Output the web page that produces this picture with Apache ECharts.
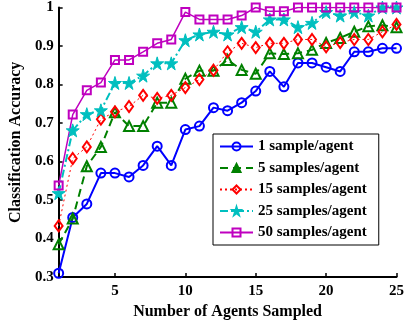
<!DOCTYPE html>
<html>
<head>
<meta charset="utf-8">
<script src="https://cdn.jsdelivr.net/npm/echarts@6/dist/echarts.min.js"></script>
<style>
  html, body { margin: 0; padding: 0; background: #fff; }
  #chart { width: 407px; height: 325px; }
</style>
</head>
<body>
<div id="chart"></div>
<script>
// Number of agents sampled (x) and accuracy per sampling budget
const agents = [1,2,3,4,5,6,7,8,9,10,11,12,13,14,15,16,17,18,19,20,21,22,23,24,25];
const acc1  = [0.31,0.455,0.49,0.57,0.57,0.56,0.59,0.64,0.59,0.683,0.692,0.74,0.732,0.753,0.783,0.834,0.794,0.856,0.856,0.845,0.834,0.885,0.885,0.894,0.894];
const acc5  = [0.385,0.452,0.588,0.638,0.728,0.692,0.692,0.753,0.753,0.815,0.836,0.836,0.864,0.838,0.828,0.881,0.879,0.881,0.89,0.908,0.921,0.937,0.951,0.954,0.949];
const acc15 = [0.433,0.608,0.638,0.71,0.729,0.743,0.772,0.764,0.772,0.792,0.813,0.837,0.885,0.907,0.896,0.907,0.907,0.917,0.917,0.898,0.909,0.917,0.917,0.937,0.956];
const acc25 = [0.518,0.681,0.723,0.733,0.804,0.804,0.823,0.855,0.855,0.915,0.93,0.937,0.93,0.949,0.937,0.969,0.969,0.949,0.96,0.988,0.979,0.988,0.979,1.0,1.0];
const acc50 = [0.538,0.722,0.785,0.805,0.864,0.864,0.885,0.907,0.917,0.988,0.969,0.969,0.969,0.979,1.0,0.99,0.99,1.0,1.0,1.0,1.0,1.0,1.0,1.0,1.0];
const seriesNames = ['1 sample/agent','5 samples/agent','15 samples/agent','25 samples/agent','50 samples/agent'];
const xTicks = [5,10,15,20,25];

const starPath = 'path://M50,0 L61,35 L98,35 L68,57 L79,91 L50,70 L21,91 L32,57 L2,35 L39,35 Z';
const serif = '"Liberation Serif", "DejaVu Serif", serif';

function pairs(ys) { return agents.map((a, i) => [a, ys[i]]); }

function makeSeries(name, ys, color, lineType, lineWidth, symbol, size, filled) {
  return {
    name: name,
    type: 'line',
    data: pairs(ys),
    symbol: symbol,
    symbolSize: size,
    showAllSymbol: true,
    lineStyle: { color: color, width: lineWidth, type: lineType },
    itemStyle: filled
      ? { color: color, borderColor: color, borderWidth: 1 }
      : { color: 'rgba(255,255,255,0)', borderColor: color, borderWidth: 2 },
    emphasis: { disabled: true }
  };
}

const chart = echarts.init(document.getElementById('chart'), null, { renderer: 'canvas' });
chart.setOption({
  animation: false,
  backgroundColor: '#fff',
  grid: { left: 51, right: 10, top: 7, bottom: 45, containLabel: false },
  xAxis: {
    type: 'value', min: 1, max: 25,
    name: 'Number of Agents Sampled', nameLocation: 'middle', nameGap: 20,
    nameTextStyle: { fontFamily: serif, fontWeight: 'bold', fontSize: 16, color: '#000' },
    axisLine: { show: true, lineStyle: { color: '#000', width: 2 } },
    axisTick: { show: true, inside: true, length: 4, customValues: xTicks, lineStyle: { color: '#000', width: 1.5 } },
    axisLabel: { customValues: xTicks, margin: 7, fontFamily: serif, fontWeight: 'bold', fontSize: 15, color: '#000' },
    splitLine: { show: false }
  },
  yAxis: {
    type: 'value', min: 0.3, max: 1, interval: 0.1,
    name: 'Classification Accuracy', nameLocation: 'middle', nameGap: 26,
    nameTextStyle: { fontFamily: serif, fontWeight: 'bold', fontSize: 16, color: '#000' },
    axisLine: { show: true, lineStyle: { color: '#000', width: 2 } },
    axisTick: { show: true, inside: true, length: 4, lineStyle: { color: '#000', width: 1.5 } },
    axisLabel: {
      margin: 5, fontFamily: serif, fontWeight: 'bold', fontSize: 15, color: '#000',
      formatter: v => String(Math.round(v * 10) / 10)
    },
    splitLine: { show: false }
  },
  legend: {
    orient: 'vertical', left: 213, top: 134,
    padding: [5, 12, 5, 6],
    itemWidth: 33, itemHeight: 10, itemGap: 6.5,
    backgroundColor: '#fff', borderColor: '#000', borderWidth: 1,
    textStyle: { fontFamily: serif, fontWeight: 'bold', fontSize: 15, lineHeight: 15, color: '#000' },
    data: [
      { name: seriesNames[0] },
      { name: seriesNames[1], itemStyle: { color: '#008000' } },
      { name: seriesNames[2] },
      { name: seriesNames[3] },
      { name: seriesNames[4] }
    ]
  },
  series: [
    makeSeries(seriesNames[0], acc1, '#0000ff', 'solid', 2, 'circle', 9, false),
    makeSeries(seriesNames[1], acc5, '#008000', [8, 5], 2, 'triangle', 10, false),
    makeSeries(seriesNames[2], acc15, '#ff0000', [2, 3], 1, 'diamond', [8, 11], false),
    makeSeries(seriesNames[3], acc25, '#00bfbf', [8, 3, 2, 3], 2, starPath, 13, true),
    makeSeries(seriesNames[4], acc50, '#bf00bf', 'solid', 1.5, 'rect', 8, false)
  ]
});
</script>
</body>
</html>
